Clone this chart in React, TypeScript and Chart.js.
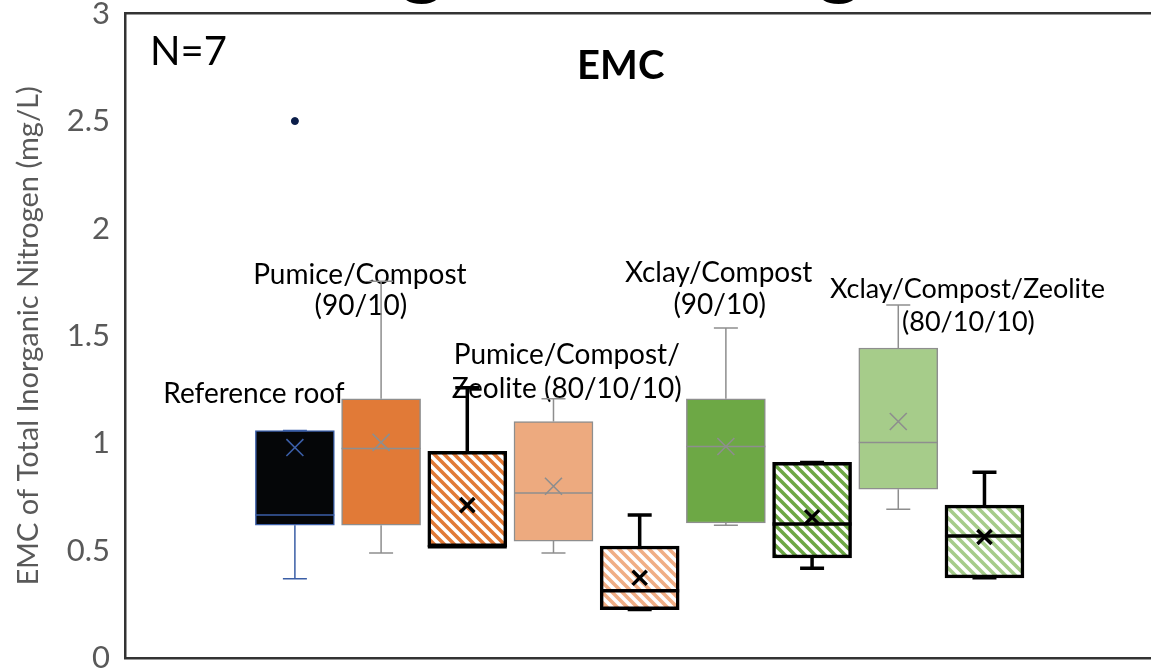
import React, { useEffect, useRef } from 'react';
import { Chart, registerables } from 'chart.js';

Chart.register(...registerables);

// ---------------- data ----------------
const boxNames = [
  'Reference roof',
  'Pumice/Compost (90/10) A',
  'Pumice/Compost (90/10) B',
  'Pumice/Compost/Zeolite (80/10/10) A',
  'Pumice/Compost/Zeolite (80/10/10) B',
  'Xclay/Compost (90/10) A',
  'Xclay/Compost (90/10) B',
  'Xclay/Compost/Zeolite (80/10/10) A',
  'Xclay/Compost/Zeolite (80/10/10) B',
];
const boxPositions = [1, 2, 3, 4, 5, 6, 7, 8, 9];
const whiskerLow = [0.37, 0.49, 0.52, 0.49, 0.227, 0.62, 0.42, 0.694, 0.375];
const q1 = [0.62, 0.62, 0.52, 0.546, 0.227, 0.63, 0.468, 0.787, 0.375];
const median = [0.667, 0.977, 0.52, 0.769, 0.315, 0.986, 0.625, 1.005, 0.569];
const q3 = [1.06, 1.208, 0.963, 1.102, 0.523, 1.208, 0.912, 1.444, 0.713];
const whiskerHigh = [1.06, 1.755, 1.259, 1.208, 0.667, 1.537, 0.912, 1.644, 0.866];
const means = [0.981, 1.005, 0.713, 0.801, 0.375, 0.986, 0.657, 1.102, 0.565];
const outlierPositions = [1];
const outlierValues = [2.5];
const yTickLabels = ['0', '0.5', '1', '1.5', '2', '2.5', '3'];

// ---------------- styles ----------------
const fillColors = ['#050608', '#E17A37', '#E17A37', '#EDAA7F', '#F0AE85', '#6DA845', '#6DA845', '#A6CC8A', '#A6CC8A'];
const hatched = [false, false, true, false, true, false, true, false, true];
const lineColors = ['#3B5EA6', '#8E8E8E', '#000000', '#8E8E8E', '#000000', '#8E8E8E', '#000000', '#8E8E8E', '#000000'];
const lineWidths = [1.5, 1.5, 3.5, 1.5, 3.5, 1.5, 3.5, 1.5, 3.5];

const annotations = [
  { text: 'N=7', x: -0.681, y: 2.759, font: '40px Lato', align: 'left' },
  { text: 'EMC', x: 4.78, y: 2.694, font: 'bold 40px Lato', align: 'center' },
  { text: 'Reference roof', x: 0.525, y: 1.19, font: '28px Lato', align: 'center' },
  { text: 'Pumice/Compost', x: 1.754, y: 1.741, font: '28px Lato', align: 'center' },
  { text: '(90/10)', x: 1.765, y: 1.597, font: '28px Lato', align: 'center' },
  { text: 'Pumice/Compost/', x: 4.154, y: 1.37, font: '28px Lato', align: 'center' },
  { text: 'Zeolite (80/10/10)', x: 4.154, y: 1.213, font: '28px Lato', align: 'center' },
  { text: 'Xclay/Compost', x: 5.916, y: 1.75, font: '28px Lato', align: 'center' },
  { text: '(90/10)', x: 5.928, y: 1.602, font: '28px Lato', align: 'center' },
  { text: 'Xclay/Compost/Zeolite', x: 8.803, y: 1.676, font: '27px Lato', align: 'center' },
  { text: '(80/10/10)', x: 8.814, y: 1.523, font: '27px Lato', align: 'center' },
];

const pageTitle = 'Total Inorganic Nitrogen';

function makeHatch(color: string) {
  const c = document.createElement('canvas');
  c.width = 10;
  c.height = 10;
  const g = c.getContext('2d')!;
  g.fillStyle = '#ffffff';
  g.fillRect(0, 0, 10, 10);
  g.strokeStyle = color;
  g.lineWidth = 3.6;
  g.beginPath();
  for (let k = -10; k <= 10; k += 10) {
    g.moveTo(k - 2, -2);
    g.lineTo(k + 12, 12);
  }
  g.stroke();
  return g.createPattern(c, 'repeat')!;
}

const zeroPad = (s: any) => {
  s.paddingTop = 0;
  s.paddingBottom = 0;
  s.paddingLeft = 0;
  s.paddingRight = 0;
};

const extrasPlugin = {
  id: 'boxExtras',
  beforeDatasetsDraw(chart: any) {
    const { ctx, scales } = chart;
    ctx.save();
    ctx.fillStyle = '#000';
    ctx.textBaseline = 'alphabetic';
    annotations.forEach((a) => {
      ctx.font = a.font;
      ctx.textAlign = a.align;
      ctx.fillText(a.text, scales.x.getPixelForValue(a.x), scales.y.getPixelForValue(a.y));
    });
    ctx.restore();
  },
  afterDatasetDraw(chart: any, args: any) {
    if (args.index !== 0) return;
    const { ctx, scales } = chart;
    const meta = chart.getDatasetMeta(0);
    ctx.save();
    boxPositions.forEach((p, i) => {
      const cx = scales.x.getPixelForValue(p);
      const bar = meta.data[i];
      const half = bar.width / 2;
      ctx.strokeStyle = lineColors[i];
      ctx.lineWidth = lineWidths[i];
      ctx.lineCap = 'butt';
      const yq3 = scales.y.getPixelForValue(q3[i]);
      const yq1 = scales.y.getPixelForValue(q1[i]);
      const yhi = scales.y.getPixelForValue(whiskerHigh[i]);
      const ylo = scales.y.getPixelForValue(whiskerLow[i]);
      const ymed = scales.y.getPixelForValue(median[i]);
      const cap = 12;
      ctx.beginPath();
      ctx.moveTo(cx, yq3);
      ctx.lineTo(cx, yhi);
      ctx.moveTo(cx - cap, yhi);
      ctx.lineTo(cx + cap, yhi);
      ctx.moveTo(cx, yq1);
      ctx.lineTo(cx, ylo);
      ctx.moveTo(cx - cap, ylo);
      ctx.lineTo(cx + cap, ylo);
      ctx.moveTo(cx - half, ymed);
      ctx.lineTo(cx + half, ymed);
      ctx.stroke();
    });
    ctx.restore();
  },
  afterDraw(chart: any) {
    // heading of the page, cut off above the picture: only the descenders show
    const { ctx } = chart;
    ctx.save();
    ctx.font = 'bold 100px Lato';
    const w = (s: string) => ctx.measureText(s).width;
    const i1 = pageTitle.indexOf('g');
    const i2 = pageTitle.lastIndexOf('g');
    const gW = w('g');
    const c1 = w(pageTitle.slice(0, i1)) + gW / 2;
    const c2 = w(pageTitle.slice(0, i2)) + gW / 2;
    const k = (840 - 423) / (c2 - c1);
    const desc = ctx.measureText('g').actualBoundingBoxDescent * k;
    ctx.font = `bold ${100 * k}px Lato`;
    ctx.fillStyle = '#000';
    ctx.textAlign = 'left';
    ctx.textBaseline = 'alphabetic';
    ctx.fillText(pageTitle, 423 - c1 * k, 3 - desc);
    ctx.restore();
  },
};

export default function App() {
  const ref = useRef<HTMLCanvasElement | null>(null);

  useEffect(() => {
    const canvas = ref.current!;
    const backgrounds = fillColors.map((c, i) => (hatched[i] ? makeHatch(c) : c));

    const chart = new Chart(canvas, {
      type: 'bar',
      data: {
        datasets: [
          {
            type: 'bar',
            label: 'Boxes',
            data: boxPositions.map((p, i) => ({ x: p, y: [q1[i], q3[i]] })) as any,
            backgroundColor: backgrounds as any,
            borderColor: lineColors,
            borderWidth: lineWidths,
            borderSkipped: false,
            barThickness: 79,
            order: 3,
          } as any,
          {
            type: 'scatter',
            label: 'Mean',
            data: boxPositions.map((p, i) => ({ x: p, y: means[i] })),
            pointStyle: 'crossRot',
            pointRadius: lineWidths.map((lw) => (lw > 2 ? 10 : 12)),
            pointBorderColor: lineColors,
            pointBorderWidth: lineWidths.map((lw) => (lw > 2 ? 3.5 : 1.6)),
            pointBackgroundColor: 'transparent',
            showLine: false,
            order: 1,
          } as any,
          {
            type: 'scatter',
            label: 'Outliers',
            data: outlierPositions.map((p, i) => ({ x: p, y: outlierValues[i] })),
            pointStyle: 'circle',
            pointRadius: 3.5,
            pointBackgroundColor: '#0B1E4A',
            pointBorderColor: '#0B1E4A',
            pointBorderWidth: 1,
            showLine: false,
            order: 0,
          } as any,
        ],
      },
      options: {
        responsive: false,
        animation: false,
        events: [],
        layout: { padding: { top: 11, bottom: 13, left: 0, right: 0 } },
        plugins: {
          legend: { display: false },
          tooltip: { enabled: false },
          title: { display: false },
        },
        scales: {
          x: {
            type: 'linear',
            position: 'bottom',
            offset: false,
            min: -0.971,
            max: 10.925,
            ticks: { display: false },
            grid: { display: false, drawTicks: false, offset: false },
            border: { display: true, color: '#333333', width: 2.5 },
            afterFit: (s: any) => {
              s.height = 0;
              zeroPad(s);
            },
          },
          xTop: {
            type: 'linear',
            position: 'top',
            display: true,
            offset: false,
            min: 0,
            max: 1,
            ticks: { display: false },
            grid: { display: false, drawTicks: false, offset: false },
            border: { display: true, color: '#333333', width: 2.5 },
            afterFit: (s: any) => {
              s.height = 0;
              zeroPad(s);
            },
          },
          y: {
            type: 'linear',
            position: 'left',
            min: 0,
            max: 3,
            ticks: {
              stepSize: 0.5,
              color: '#595959',
              font: { family: 'Lato', size: 31 },
              padding: 15,
              callback: (v: any) => yTickLabels[Math.round(Number(v) / 0.5)],
            },
            grid: { display: false, drawTicks: false },
            border: { display: true, color: '#333333', width: 2.5 },
            title: {
              display: true,
              text: 'EMC of Total Inorganic Nitrogen (mg/L)',
              color: '#595959',
              font: { family: 'Lato', size: 29 },
              padding: { top: 11, bottom: 0 },
            },
            afterFit: (s: any) => {
              s.width = 125;
              zeroPad(s);
            },
          },
        },
      } as any,
      plugins: [extrasPlugin as any],
    });

    return () => chart.destroy();
  }, []);

  return (
    <div
      style={{
        position: 'fixed',
        left: 0,
        top: 0,
        width: 1151,
        height: 672,
        overflow: 'hidden',
        background: '#ffffff',
      }}
    >
      <canvas ref={ref} width={1164} height={672} style={{ display: 'block' }} />
    </div>
  );
}
